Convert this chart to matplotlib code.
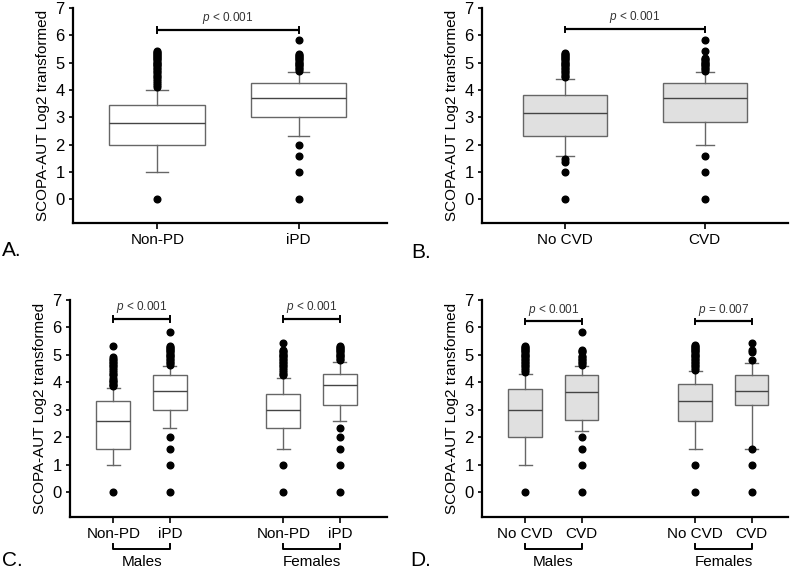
import matplotlib
matplotlib.use("Agg")
import matplotlib.pyplot as plt
import matplotlib.transforms as mtransforms

plt.rcParams['font.family'] = ['Liberation Sans', 'DejaVu Sans']
plt.rcParams['mathtext.fontset'] = 'custom'
plt.rcParams['mathtext.rm'] = 'Liberation Sans'
plt.rcParams['mathtext.it'] = 'Liberation Sans:italic'

# ---- data (log2 scale) ----
# panel A
a_labels = ["Non-PD", "iPD"]
a_low = [1.0, 2.32]
a_q1 = [2.0, 3.0]
a_med = [2.8, 3.7]
a_q3 = [3.45, 4.25]
a_high = [4.0, 4.64]
a_fliers = [
    [0, 4.09, 4.17, 4.25, 4.32, 4.39, 4.46, 4.52, 4.58, 4.64, 4.70, 4.75, 4.81, 4.86,
     4.91, 4.95, 5.00, 5.04, 5.09, 5.13, 5.17, 5.21, 5.25, 5.29, 5.32, 5.36, 5.39, 5.43],
    [0, 1.0, 1.58, 2.0, 4.70, 4.75, 4.81, 4.86, 4.91, 4.95, 5.00, 5.04, 5.09, 5.13,
     5.17, 5.21, 5.25, 5.29, 5.32, 5.83],
]
a_pval = ["< 0.001"]

# panel B
b_labels = ["No CVD", "CVD"]
b_low = [1.58, 2.0]
b_q1 = [2.32, 2.81]
b_med = [3.17, 3.7]
b_q3 = [3.81, 4.25]
b_high = [4.39, 4.64]
b_fliers = [
    [0, 1.0, 1.38, 1.46, 4.46, 4.52, 4.58, 4.64, 4.70, 4.75, 4.81, 4.86, 4.91, 4.95,
     5.00, 5.04, 5.09, 5.13, 5.17, 5.21, 5.25, 5.29, 5.32, 5.36],
    [0, 1.0, 1.58, 4.70, 4.75, 4.81, 4.86, 4.91, 4.95, 5.00, 5.04, 5.09, 5.13, 5.17,
     5.43, 5.83],
]
b_pval = ["< 0.001"]

# panel C (Males Non-PD, Males iPD, Females Non-PD, Females iPD)
c_labels = ["Non-PD", "iPD", "Non-PD", "iPD"]
c_low = [1.0, 2.32, 1.58, 2.58]
c_q1 = [1.58, 3.0, 2.32, 3.17]
c_med = [2.58, 3.7, 3.0, 3.91]
c_q3 = [3.32, 4.25, 3.58, 4.32]
c_high = [3.81, 4.58, 4.17, 4.75]
c_fliers = [
    [0, 3.86, 3.91, 3.95, 4.00, 4.04, 4.09, 4.17, 4.25, 4.32, 4.39, 4.46, 4.52, 4.58,
     4.64, 4.70, 4.75, 4.81, 4.86, 4.91, 5.32],
    [0, 1.0, 1.58, 2.0, 4.64, 4.70, 4.75, 4.81, 4.86, 4.91, 4.95, 5.00, 5.04, 5.09,
     5.13, 5.17, 5.21, 5.25, 5.29, 5.32, 5.83],
    [0, 1.0, 4.25, 4.32, 4.39, 4.46, 4.52, 4.58, 4.64, 4.70, 4.75, 4.81, 4.86, 4.91,
     4.95, 5.00, 5.04, 5.09, 5.13, 5.17, 5.43],
    [0, 1.0, 1.58, 2.0, 2.32, 4.81, 4.86, 4.91, 4.95, 5.00, 5.04, 5.09, 5.13, 5.17,
     5.21, 5.25, 5.29, 5.32],
]
c_pval = ["< 0.001", "< 0.001"]

# panel D (Males No CVD, Males CVD, Females No CVD, Females CVD)
d_labels = ["No CVD", "CVD", "No CVD", "CVD"]
d_low = [1.0, 2.24, 1.58, 1.58]
d_q1 = [2.0, 2.64, 2.58, 3.19]
d_med = [3.0, 3.65, 3.33, 3.7]
d_q3 = [3.76, 4.25, 3.92, 4.25]
d_high = [4.32, 4.6, 4.4, 4.72]
d_fliers = [
    [0, 4.39, 4.46, 4.52, 4.58, 4.64, 4.70, 4.75, 4.81, 4.86, 4.91, 4.95, 5.00, 5.04,
     5.09, 5.13, 5.17, 5.21, 5.25, 5.29, 5.32],
    [0, 1.0, 1.58, 2.0, 4.64, 4.70, 4.75, 4.81, 4.86, 4.91, 4.95, 5.09, 5.13, 5.17, 5.83],
    [0, 1.0, 4.46, 4.52, 4.58, 4.64, 4.70, 4.75, 4.81, 4.86, 4.91, 4.95, 5.00, 5.04,
     5.09, 5.13, 5.17, 5.21, 5.25, 5.29, 5.32, 5.36],
    [0, 1.0, 1.58, 4.83, 5.09, 5.17, 5.45],
]
d_pval = ["< 0.001", "= 0.007"]

groups = ["Males", "Females"]
ylabel = "SCOPA-AUT Log2 transformed"

W, H = 796, 570
fig = plt.figure(figsize=(W / 100, H / 100), dpi=100)


def make_axes(left, right, top, bottom):
    return fig.add_axes([left / W, 1 - bottom / H, (right - left) / W, (bottom - top) / H])


def draw_panel(ax, labels, low, q1, med, q3, high, fliers, positions, width, capw,
               face, xlim, ylim):
    stats = []
    for i in range(len(labels)):
        stats.append(dict(med=med[i], q1=q1[i], q3=q3[i], whislo=low[i], whishi=high[i],
                          fliers=fliers[i], label=labels[i]))
    ax.bxp(stats, positions=positions, widths=width, capwidths=capw, patch_artist=True,
           manage_ticks=False,
           boxprops=dict(facecolor=face, edgecolor='#666666', linewidth=1.0),
           whiskerprops=dict(color='#666666', linewidth=1.0),
           capprops=dict(color='#666666', linewidth=1.0),
           medianprops=dict(color='#444444', linewidth=1.0),
           flierprops=dict(marker='o', markerfacecolor='black', markeredgecolor='black',
                           markersize=4.8, linestyle='none'))
    ax.set_xlim(*xlim)
    ax.set_ylim(*ylim)
    ax.set_xticks(positions)
    ax.set_xticklabels(labels, fontsize=11)
    ax.set_yticks(range(0, 8))
    ax.tick_params(axis='y', labelsize=12, length=3, width=1.2, pad=3)
    ax.tick_params(axis='x', length=4, width=1.2, pad=3)
    for s in ['top', 'right']:
        ax.spines[s].set_visible(False)
    for s in ['left', 'bottom']:
        ax.spines[s].set_linewidth(1.6)
    ax.set_ylabel(ylabel, fontsize=11, labelpad=4)


def p_bracket(ax, x0, x1, y, text):
    ax.plot([x0, x1], [y, y], color='black', lw=1.6, solid_capstyle='butt')
    ax.plot([x0, x0], [y - 0.1, y + 0.1], color='black', lw=1.4)
    ax.plot([x1, x1], [y - 0.1, y + 0.1], color='black', lw=1.4)
    ax.text((x0 + x1) / 2, y + 0.14, r"$p$ " + text, ha='center', va='bottom',
            fontsize=8.5, color='#333333')


def group_bracket(ax, x0, x1, text):
    tr = mtransforms.blended_transform_factory(ax.transData, ax.transAxes)
    ax.plot([x0, x0, x1, x1], [-0.124, -0.149, -0.149, -0.124], color='black', lw=1.4,
            transform=tr, clip_on=False)
    ax.text((x0 + x1) / 2, -0.206, text, ha='center', va='center', fontsize=11,
            transform=tr)


# panel A
axA = make_axes(73, 387, 8, 223)
draw_panel(axA, a_labels, a_low, a_q1, a_med, a_q3, a_high, a_fliers, [1, 2], 0.68, 0.155,
           'white', (0.402, 2.627), (-0.87, 7.0))
p_bracket(axA, 1, 2, 6.2, a_pval[0])

# panel B
axB = make_axes(482, 788, 8, 223)
draw_panel(axB, b_labels, b_low, b_q1, b_med, b_q3, b_high, b_fliers, [1, 2], 0.6, 0.13,
           '#e0e0e0', (0.407, 2.595), (-0.87, 7.0))
p_bracket(axB, 1, 2, 6.22, b_pval[0])

# panel C
axC = make_axes(70, 387, 300, 517)
draw_panel(axC, c_labels, c_low, c_q1, c_med, c_q3, c_high, c_fliers, [1, 2, 4, 5], 0.6,
           0.23, 'white', (0.236, 5.83), (-0.91, 7.0))
p_bracket(axC, 1, 2, 6.3, c_pval[0])
p_bracket(axC, 4, 5, 6.3, c_pval[1])
group_bracket(axC, 1, 2, groups[0])
group_bracket(axC, 4, 5, groups[1])

# panel D
axD = make_axes(482, 788, 300, 517)
draw_panel(axD, d_labels, d_low, d_q1, d_med, d_q3, d_high, d_fliers, [1, 2, 4, 5], 0.59,
           0.23, '#e0e0e0', (0.24, 5.64), (-0.91, 7.0))
p_bracket(axD, 1, 2, 6.22, d_pval[0])
p_bracket(axD, 4, 5, 6.22, d_pval[1])
group_bracket(axD, 1, 2, groups[0])
group_bracket(axD, 4, 5, groups[1])

# panel letters
fig.text(2 / W, 1 - 251 / H, "A.", fontsize=15, ha='left', va='center')
fig.text(411 / W, 1 - 253 / H, "B.", fontsize=15, ha='left', va='center')
fig.text(2 / W, 1 - 560 / H, "C.", fontsize=15, ha='left', va='center')
fig.text(410 / W, 1 - 561 / H, "D.", fontsize=15, ha='left', va='center')

fig.savefig("out.png", dpi=100)
